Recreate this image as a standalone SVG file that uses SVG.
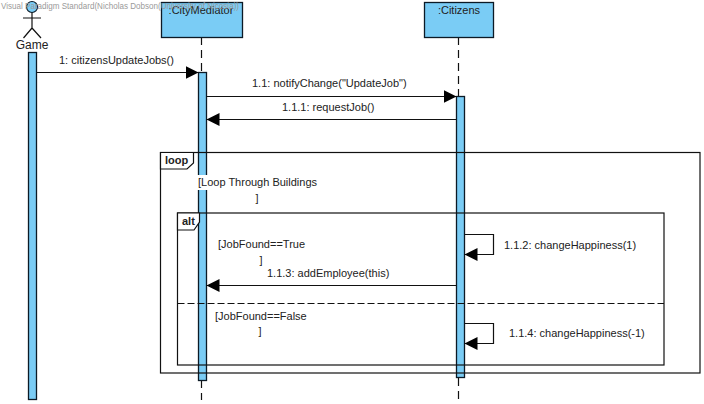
<svg xmlns="http://www.w3.org/2000/svg" width="704" height="404" viewBox="0 0 704 404">
<style>
text{font-family:"Liberation Sans",Arial,sans-serif;font-size:11px;fill:#222}
.wm{font-size:9px;fill:#9a9a9a}
.box{fill:#7accf5;stroke:#0c1a26;stroke-width:1.3}
.life{fill:none;stroke:#111;stroke-width:1.2;stroke-dasharray:8 5}
.frame{fill:none;stroke:#111;stroke-width:1.2}
.tab{fill:#fff;stroke:#111;stroke-width:1.2}
.msg{fill:none;stroke:#111;stroke-width:1.2}
.bold{font-weight:bold;font-size:11px}
.act{stroke:#111;stroke-width:1.2;fill:none}
</style>
<defs>
<marker id="ah" markerUnits="userSpaceOnUse" markerWidth="14" markerHeight="14" refX="13" refY="7" orient="auto"><path d="M0 0.5L13 7L0 13.5Z" fill="#000"/></marker>
</defs>
<rect width="704" height="404" fill="#fff"/>
<g id="lifelines">
<line class="life" x1="201.500" y1="37" x2="201.500" y2="72"/>
<line class="life" x1="201.500" y1="380" x2="201.500" y2="400"/>
<line class="life" x1="458.500" y1="37" x2="458.500" y2="96"/>
<line class="life" x1="458.500" y1="378" x2="458.500" y2="400"/>
</g>
<g id="game">
<circle cx="32" cy="7" r="5.500" fill="#7accf5" stroke="#0c1a26" stroke-width="1.2"/>
<path d="M32 12.500V28M23 18H41M32 28L23.500 38M32 28L41 38" class="act"/>
<text x="32" y="49" text-anchor="middle" style="font-size:12px">Game</text>
<rect class="box" x="28.500" y="52.500" width="8" height="347"/>
</g>
<g id="citymediator">
<rect class="box" x="161.500" y="2.500" width="81" height="35"/>
<text x="201" y="14" text-anchor="middle">:CityMediator</text>
<rect class="box" x="198.500" y="72.500" width="8" height="308"/>
</g>
<g id="citizens">
<rect class="box" x="424.500" y="2.500" width="69" height="35"/>
<text x="459" y="14" text-anchor="middle">:Citizens</text>
<rect class="box" x="456.500" y="96.500" width="8" height="281"/>
</g>
<g id="frames">
<rect class="frame" x="160.500" y="152.500" width="539.500" height="220.500"/>
<path class="tab" d="M160.500 152.500H193.500V163L187 169H160.500Z"/>
<text class="bold" x="165" y="164">loop</text>
<rect class="frame" x="177.500" y="213" width="486.500" height="152"/>
<path class="tab" d="M177.500 213H199.500V222L194 230H177.500Z"/>
<text class="bold" x="182" y="225">alt</text>
<line x1="177.500" y1="303.500" x2="664" y2="303.500" stroke="#111" stroke-width="1.2" stroke-dasharray="7 3"/>
</g>
<g id="connectors">
<line class="msg" x1="36.500" y1="72.500" x2="198.500" y2="72.500" marker-end="url(#ah)"/>
<line class="msg" x1="206.500" y1="96.500" x2="456.500" y2="96.500" marker-end="url(#ah)"/>
<line class="msg" x1="456.500" y1="119.500" x2="206.500" y2="119.500" marker-end="url(#ah)"/>
<path class="msg" d="M464.500 234.500H493.500V254.500H464.500" marker-end="url(#ah)"/>
<line class="msg" x1="456.500" y1="285.500" x2="206.500" y2="285.500" marker-end="url(#ah)"/>
<path class="msg" d="M464.500 323.500H493.500V343.500H464.500" marker-end="url(#ah)"/>
</g>
<g id="labels">
<text x="59" y="64">1: citizensUpdateJobs()</text>
<text x="252" y="87">1.1: notifyChange("UpdateJob")</text>
<text x="282" y="111">1.1.1: requestJob()</text>
<rect x="197" y="175" width="11" height="15" fill="#fff"/>
<text x="198" y="186">[Loop Through Buildings</text>
<text x="257" y="202" text-anchor="middle">]</text>
<text x="218" y="248">[JobFound==True</text>
<text x="261" y="264" text-anchor="middle">]</text>
<text x="267" y="277">1.1.3: addEmployee(this)</text>
<text x="215" y="320">[JobFound==False</text>
<text x="260" y="335" text-anchor="middle">]</text>
<text x="504" y="249">1.1.2: changeHappiness(1)</text>
<text x="509" y="337">1.1.4: changeHappiness(-1)</text>
</g>
<text class="wm" x="1" y="9" textLength="238" lengthAdjust="spacingAndGlyphs">Visual Paradigm Standard(Nicholas Dobson(University of Nicosia))</text>
</svg>
